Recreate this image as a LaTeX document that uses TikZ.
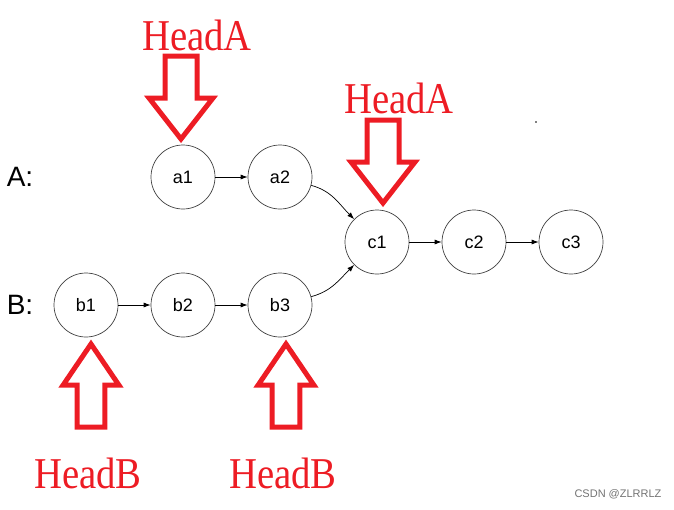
\documentclass[tikz,border=0pt]{standalone}
\usepackage{fontspec}
\setmainfont{Liberation Sans}
\newfontfamily\headfont{Liberation Serif}
\usetikzlibrary{arrows.meta,positioning}
\definecolor{headred}{RGB}{237,28,36}
\newcommand{\headtext}[1]{\scalebox{0.88}[1]{#1}}

\tikzset{
  listnode/.style={circle, draw=black!75, line width=0.7pt, minimum size=64pt, inner sep=0pt, font=\fontsize{18}{21}\selectfont},
  link/.style={-{Latex[length=7pt,width=5pt]}, line width=0.7pt},
  listname/.style={font=\fontsize{28}{32}\selectfont},
  headlabel/.style={anchor=base, text=headred, font=\headfont\fontsize{44}{48}\selectfont},
  pics/headarrow/.style={code={
    \draw[headred, line width=5pt, line join=miter]
      (-16,0) -- (16,0) -- (16,-42) -- (32,-42) -- (0,-83) -- (-32,-42) -- (-16,-42) -- cycle;
  }}
}

\begin{document}
\begin{tikzpicture}[x=1pt, y=1pt]
        \useasboundingbox (0,0) rectangle (674,-509);
        % list names
        \node[listname] (nameA) at (20,-177) {A:};
        \node[listname] (nameB) at (20,-305) {B:};
        % nodes
        \node[listnode] (a1) at (183,-177) {a1};
        \node[listnode] (a2) at (280,-177) {a2};
        \node[listnode] (b1) at (86,-305) {b1};
        \node[listnode] (b2) at (183,-305) {b2};
        \node[listnode] (b3) at (280,-305) {b3};
        \node[listnode] (c1) at (377,-242) {c1};
        \node[listnode] (c2) at (474,-242) {c2};
        \node[listnode] (c3) at (571,-242) {c3};
        % links
        \draw[link] (a1) -- (a2);
        \draw[link] (b1) -- (b2);
        \draw[link] (b2) -- (b3);
        \draw[link] (c1) -- (c2);
        \draw[link] (c2) -- (c3);
        \draw[link] (a2) to[out=-15, in=135] (c1);
        \draw[link] (b3) to[out=15, in=-135] (c1);
        % head pointers
        \pic at (181,-56) {headarrow};
        \node[headlabel] (headA1) at (197,-50) {\headtext{HeadA}};
        \pic at (383,-120) {headarrow};
        \node[headlabel] (headA2) at (399,-113) {\headtext{HeadA}};
        \pic[rotate=180, xscale=0.87] at (91,-427) {headarrow};
        \node[headlabel] (headB1) at (88,-488) {\headtext{HeadB}};
        \pic[rotate=180, xscale=0.87] at (286,-427) {headarrow};
        \node[headlabel] (headB2) at (283,-488) {\headtext{HeadB}};
        \fill (536,-122) circle (0.8);
        \node[text=black!55, font=\fontsize{11}{13}\selectfont] (mark) at (618,-494) {CSDN @ZLRRLZ};
\end{tikzpicture}
\end{document}
